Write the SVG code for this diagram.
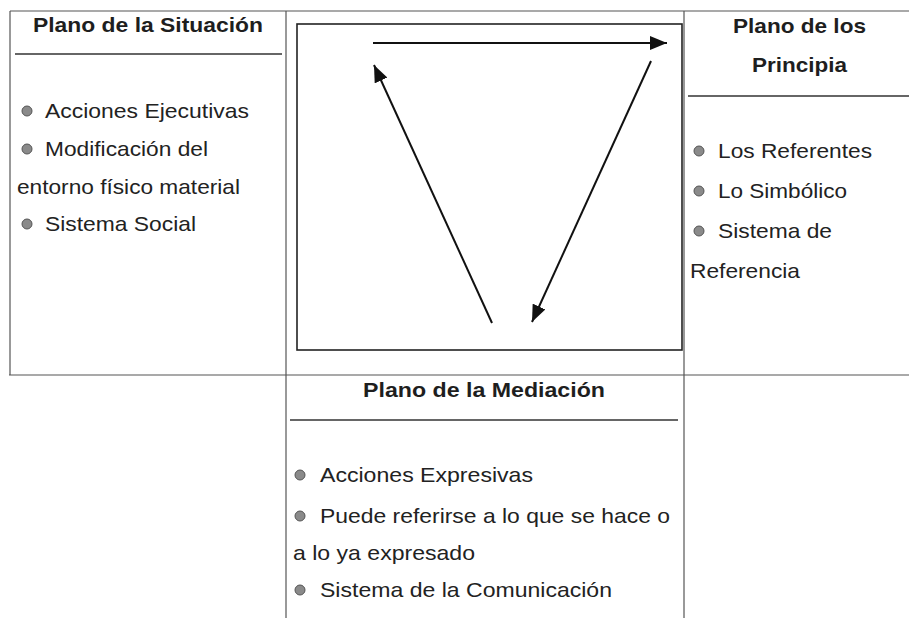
<svg xmlns="http://www.w3.org/2000/svg" width="909" height="618" viewBox="0 0 909 618">
<defs>
<style>
.grid{stroke:#555;stroke-width:1.2;fill:none}
.sep{stroke:#333;stroke-width:1.5}
.hdr{font-family:"Liberation Sans",Arial,sans-serif;font-weight:bold;font-size:21px;fill:#1e1e1e}
.txt{font-family:"Liberation Sans",Arial,sans-serif;font-size:21px;fill:#222}
.bul{fill:#8a8a8a;stroke:#555;stroke-width:1}
.arr{stroke:#111;stroke-width:2;fill:none;marker-end:url(#ah)}
</style>
<marker id="ah" markerUnits="userSpaceOnUse" markerWidth="18" markerHeight="14" refX="17" refY="7" orient="auto">
<path d="M0,0 L17,7 L0,14 z" fill="#111"/>
</marker>
</defs>
<rect width="909" height="618" fill="#fff"/>
<g id="table">
<line class="grid" x1="10" y1="11" x2="909" y2="11"/>
<line class="grid" x1="10" y1="11" x2="10" y2="375"/>
<line class="grid" x1="9" y1="375" x2="909" y2="375"/>
<line class="grid" x1="286" y1="11" x2="286" y2="618"/>
<line class="grid" x1="684" y1="11" x2="684" y2="618"/>
</g>
<g id="plano-situacion">
<text class="hdr" x="33" y="32" textLength="230" lengthAdjust="spacingAndGlyphs">Plano de la Situación</text>
<line class="sep" x1="15" y1="54" x2="282" y2="54"/>
<circle class="bul" cx="27" cy="111" r="5"/>
<text class="txt" x="45" y="118" textLength="204" lengthAdjust="spacingAndGlyphs">Acciones Ejecutivas</text>
<circle class="bul" cx="27" cy="149" r="5"/>
<text class="txt" x="45" y="156" textLength="163" lengthAdjust="spacingAndGlyphs">Modificación del</text>
<text class="txt" x="17" y="194" textLength="223" lengthAdjust="spacingAndGlyphs">entorno físico material</text>
<circle class="bul" cx="27" cy="224" r="5"/>
<text class="txt" x="45" y="231" textLength="151" lengthAdjust="spacingAndGlyphs">Sistema Social</text>
</g>
<g id="plano-principia">
<text class="hdr" x="733" y="33" textLength="133" lengthAdjust="spacingAndGlyphs">Plano de los</text>
<text class="hdr" x="752" y="72" textLength="95" lengthAdjust="spacingAndGlyphs">Principia</text>
<line class="sep" x1="688" y1="96" x2="909" y2="96"/>
<circle class="bul" cx="699" cy="151" r="5"/>
<text class="txt" x="718" y="158" textLength="154" lengthAdjust="spacingAndGlyphs">Los Referentes</text>
<circle class="bul" cx="699" cy="191" r="5"/>
<text class="txt" x="718" y="198" textLength="129" lengthAdjust="spacingAndGlyphs">Lo Simbólico</text>
<circle class="bul" cx="699" cy="231" r="5"/>
<text class="txt" x="718" y="238" textLength="114" lengthAdjust="spacingAndGlyphs">Sistema de</text>
<text class="txt" x="690" y="278" textLength="110" lengthAdjust="spacingAndGlyphs">Referencia</text>
</g>
<g id="plano-mediacion">
<text class="hdr" x="363" y="397" textLength="242" lengthAdjust="spacingAndGlyphs">Plano de la Mediación</text>
<line class="sep" x1="290" y1="420" x2="678" y2="420"/>
<circle class="bul" cx="300" cy="475" r="5"/>
<text class="txt" x="320" y="482" textLength="213" lengthAdjust="spacingAndGlyphs">Acciones Expresivas</text>
<circle class="bul" cx="300" cy="516" r="5"/>
<text class="txt" x="320" y="523" textLength="350" lengthAdjust="spacingAndGlyphs">Puede referirse a lo que se hace o</text>
<text class="txt" x="293" y="560" textLength="182" lengthAdjust="spacingAndGlyphs">a lo ya expresado</text>
<circle class="bul" cx="300" cy="590" r="5"/>
<text class="txt" x="320" y="597" textLength="292" lengthAdjust="spacingAndGlyphs">Sistema de la Comunicación</text>
</g>
<g id="center-box">
<rect x="297" y="24" width="385" height="326" fill="none" stroke="#222" stroke-width="1.6"/>
</g>
<g id="connectors">
<line class="arr" x1="373" y1="43" x2="667" y2="43"/>
<line class="arr" x1="492" y1="323" x2="374" y2="65"/>
<line class="arr" x1="651" y1="61" x2="532" y2="322"/>
</g>
</svg>
